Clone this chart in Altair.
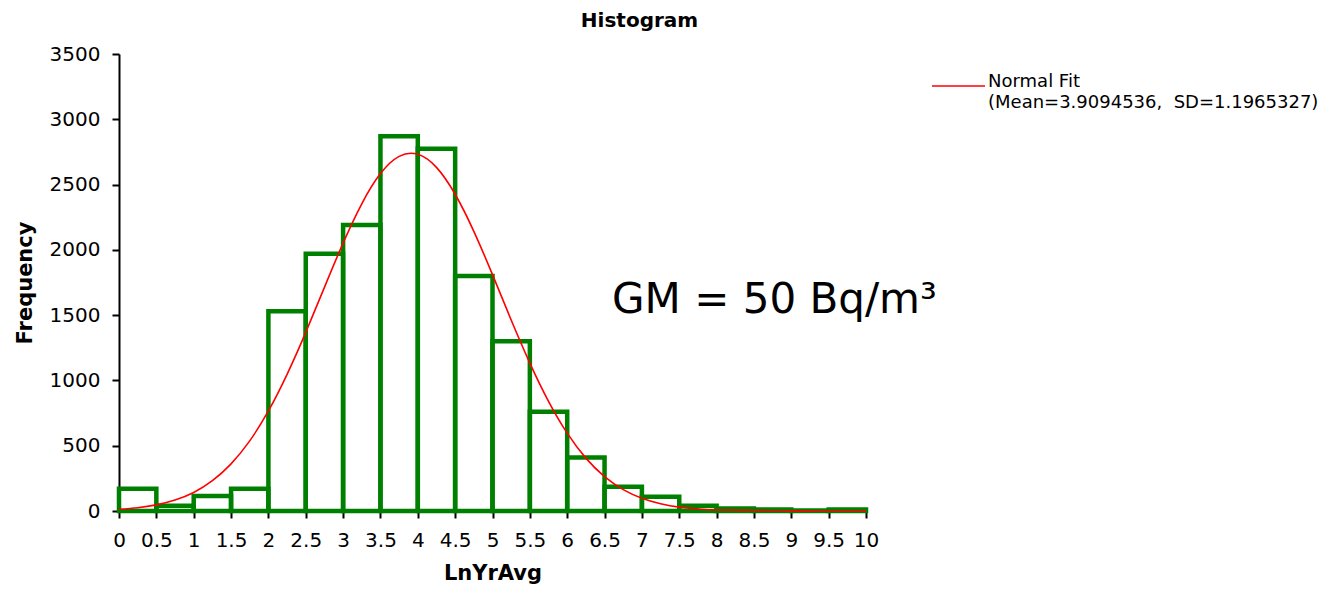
import altair as alt
import pandas as pd

# Histogram bins (LnYrAvg, width 0.5) and frequencies
bin_start = [0, 0.5, 1, 1.5, 2, 2.5, 3, 3.5, 4, 4.5, 5, 5.5, 6, 6.5, 7, 7.5, 8, 8.5, 9, 9.5]
bin_end = [0.5, 1, 1.5, 2, 2.5, 3, 3.5, 4, 4.5, 5, 5.5, 6, 6.5, 7, 7.5, 8, 8.5, 9, 9.5, 10]
frequency = [170, 40, 115, 170, 1530, 1970, 2190, 2870, 2775, 1800,
             1300, 760, 410, 185, 110, 40, 20, 12, 3, 12]

# Normal fit curve
fit_x = [0, 0.25, 0.5, 0.75, 1, 1.25, 1.5, 1.75, 2, 2.25, 2.5, 2.75, 3, 3.25, 3.5,
         3.75, 4, 4.25, 4.5, 4.75, 5, 5.25, 5.5, 5.75, 6, 6.25, 6.5, 6.75, 7, 7.25,
         7.5, 7.75, 8, 8.5, 9, 9.5, 10]
fit_y = [13, 25, 47, 84, 142, 232, 361, 537, 766, 1047, 1368, 1713, 2052, 2353, 2584,
         2716, 2732, 2632, 2426, 2142, 1810, 1463, 1133, 840, 596, 405, 263, 164, 98, 56,
         30, 16, 8, 4, 1, 0, 0]

x_ticks = [0, 0.5, 1, 1.5, 2, 2.5, 3, 3.5, 4, 4.5, 5, 5.5, 6, 6.5, 7, 7.5, 8, 8.5, 9, 9.5, 10]
y_ticks = [0, 500, 1000, 1500, 2000, 2500, 3000, 3500]

legend_title = "Normal Fit"
legend_sub = "(Mean=3.9094536,\u00a0 SD=1.1965327)"
annotation = "GM = 50 Bq/m\u00b3"

hist_df = pd.DataFrame({"start": bin_start, "end": bin_end, "freq": frequency})
fit_df = pd.DataFrame({"x": fit_x, "y": fit_y})

FONT = "DejaVu Sans"

x_scale = alt.Scale(domain=[0, 10], nice=False, zero=False)
y_scale = alt.Scale(domain=[0, 3500], nice=False)

x_axis = alt.Axis(title="LnYrAvg", values=x_ticks, labelOverlap=False, grid=False,
                  format="~g", labelFlush=False)
y_axis = alt.Axis(title="Frequency", values=y_ticks, grid=False, format="d")

bars = alt.Chart(hist_df).mark_rect(
    fillOpacity=0, stroke="#008000", strokeWidth=4.5, strokeJoin="miter"
).encode(
    x=alt.X("start:Q", scale=x_scale, axis=x_axis),
    x2="end:Q",
    y=alt.Y("freq:Q", scale=y_scale, axis=y_axis),
    y2=alt.datum(0),
)

fit = alt.Chart(fit_df).mark_line(color="#FF0000", strokeWidth=1.6, interpolate="natural").encode(
    x=alt.X("x:Q", scale=x_scale, axis=x_axis),
    y=alt.Y("y:Q", scale=y_scale, axis=y_axis),
)

gm = alt.Chart(pd.DataFrame({"t": [annotation]})).mark_text(
    font=FONT, fontSize=42, align="left", baseline="alphabetic", color="black"
).encode(x=alt.value(493), y=alt.value(259), text="t:N")

leg_line = alt.Chart(pd.DataFrame({"a": [0]})).mark_rule(color="#FF0000", strokeWidth=1.6).encode(
    x=alt.value(813), x2=alt.value(866), y=alt.value(32)
)
leg_t1 = alt.Chart(pd.DataFrame({"t": [legend_title]})).mark_text(
    font=FONT, fontSize=18, align="left", baseline="alphabetic", color="#000000"
).encode(x=alt.value(869), y=alt.value(33), text="t:N")
leg_t2 = alt.Chart(pd.DataFrame({"t": [legend_sub]})).mark_text(
    font=FONT, fontSize=18, align="left", baseline="alphabetic", color="#000000"
).encode(x=alt.value(869), y=alt.value(54), text="t:N")

chart = alt.layer(bars, fit, gm, leg_line, leg_t1, leg_t2).properties(
    width=747,
    height=457,
    autosize=alt.AutoSizeParams(type="none"),
    padding={"left": 111, "top": 46, "right": 459, "bottom": 73},
    title=alt.TitleParams(
        text="Histogram", font=FONT, fontSize=20, fontWeight="bold", color="black",
        anchor="middle", frame="group", dx=147, offset=13,
    ),
).configure_view(stroke=None).configure_axis(
    labelFont=FONT, labelFontSize=20, labelColor="black",
    titleFont=FONT, titleFontSize=21, titleFontWeight="bold", titleColor="black",
    domainColor="black", domainWidth=2, tickColor="black", tickWidth=2, tickSize=7,
    labelPadding=12, zindex=1,
).configure_axisY(titlePadding=14).configure_axisX(titlePadding=12, labelOverlap=False)

chart.save("out.html", embed_options={"renderer": "svg", "actions": False})
